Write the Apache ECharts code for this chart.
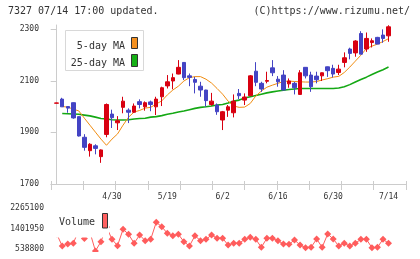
<!DOCTYPE html>
<html>
<head>
<meta charset="UTF-8">
<title>7327</title>
<style>
  html, body { margin: 0; padding: 0; background: #fff; }
  #chart { width: 420px; height: 259px; }
</style>
</head>
<body>
<div id="chart"></div>
<script src="https://cdn.jsdelivr.net/npm/echarts@6/dist/echarts.min.js"></script>
<script>
// trading days, 2020-04-15 .. 2020-07-14
var dates = ['4/15','4/16','4/17','4/20','4/21','4/22','4/23','4/24','4/27','4/28',
  '4/30','5/1','5/7','5/8','5/11','5/12','5/13','5/14','5/15','5/18',
  '5/19','5/20','5/21','5/22','5/25','5/26','5/27','5/28','5/29','6/1',
  '6/2','6/3','6/4','6/5','6/8','6/9','6/10','6/11','6/12','6/15',
  '6/16','6/17','6/18','6/19','6/22','6/23','6/24','6/25','6/26','6/29',
  '6/30','7/1','7/2','7/3','7/6','7/7','7/8','7/9','7/10','7/13','7/14'];
var labelIdx = [10, 20, 30, 40, 50, 60];

// [open, close, low, high]
var ohlc = [
  [2013,2014,2012,2015],[2029,1999,1999,2034],[2000,1994,1976,2001],[2015,1956,1953,2016],
  [1961,1886,1884,1962],[1881,1842,1829,1893],[1829,1854,1806,1858],[1848,1838,1815,1854],
  [1806,1832,1782,1834],[1892,2008,1881,2012],[1971,1957,1917,1988],[1937,1945,1909,1963],
  [1997,2021,1974,2038],[1986,1978,1936,1993],[1978,2002,1975,2012],[2019,2008,1993,2028],
  [1999,2015,1984,2020],[2018,2008,1982,2023],[1999,2029,1967,2038],[2038,2073,2002,2077],
  [2080,2096,2070,2122],[2099,2112,2067,2128],[2126,2152,2125,2180],[2171,2112,2103,2172],
  [2119,2113,2079,2128],[2105,2094,2051,2115],[2079,2064,2038,2096],[2064,2023,1999,2065],
  [2008,2021,2003,2053],[2006,1980,1968,2012],[1948,1980,1909,1983],[1986,1999,1960,2006],
  [1976,2021,1958,2047],[2051,2042,2028,2068],[2025,2037,2006,2051],[2042,2119,2042,2122],
  [2137,2094,2079,2172],[2090,2068,2057,2096],[2098,2101,2090,2135],[2150,2131,2118,2180],
  [2106,2096,2077,2118],[2122,2064,2064,2141],[2088,2099,2073,2109],[2090,2073,2047,2096],
  [2047,2131,2047,2141],[2152,2119,2109,2153],[2122,2077,2057,2135],[2118,2104,2090,2135],
  [2119,2131,2099,2132],[2154,2139,2115,2155],[2148,2126,2113,2162],[2132,2145,2122,2162],
  [2171,2189,2152,2210],[2223,2206,2183,2228],[2208,2254,2193,2257],[2283,2203,2203,2292],
  [2223,2264,2212,2287],[2248,2255,2229,2264],[2268,2242,2242,2270],[2277,2264,2247,2299],
  [2274,2309,2251,2315]
];

var ma5 = [null,2000,1998,1990,1983,1955,1928,1901,1874,1850,1874,1894,1928,1959,1979,1985,
  1994,1997,2010,2022,2045,2064,2079,2099,2112,2116,2116,2106,2091,2070,2048,2021,2002,1997,
  1998,2012,2041,2060,2075,2083,2090,2097,2099,2097,2096,2095,2095,2097,2103,2108,2114,2117,
  2132,2153,2176,2199,2225,2234,2242,2252,2263];

var ma25 = [null,1973,1972,1971,1970,1967,1964,1959,1954,1952,1949,1948,1948,1949,1952,1954,
  1955,1959,1961,1965,1970,1974,1979,1983,1988,1993,1997,1999,2002,2006,2008,2014,2021,2025,
  2033,2038,2043,2048,2053,2057,2060,2063,2066,2068,2070,2070,2070,2070,2070,2070,2070,2072,
  2077,2085,2095,2105,2114,2124,2134,2143,2153];

var volume = [1170000,665000,749000,779000,1339000,981000,1255000,455000,846000,1465000,
  947000,678000,1368000,1158000,779000,1128000,888000,947000,1663000,1478000,
  1200000,1099000,1158000,846000,665000,1099000,888000,947000,1128000,989000,
  989000,707000,779000,779000,947000,1031000,947000,610000,989000,989000,
  888000,749000,737000,918000,707000,594000,610000,960000,610000,1170000,
  960000,665000,779000,665000,779000,947000,947000,594000,610000,947000,779000];

var priceTicks = [1700, 1900, 2100, 2300];
var volTicks = [538800, 1401950, 2265100];

var FONT = 'DejaVu Sans Mono';
var AXIS = '#cccccc';

function pairs(arr) {
  var out = [];
  for (var i = 0; i < arr.length; i++) {
    if (arr[i] != null) out.push([i, arr[i]]);
  }
  return out;
}
function plain(v) { return String(v); }
var candleData = ohlc.map(function (d, i) { return [i, d[0], d[1], d[2], d[3]]; });

var chart = echarts.init(document.getElementById('chart'), null, { renderer: 'canvas' });

var xMin = -1.03, xMax = 63.16;

chart.setOption({
  animation: false,
  textStyle: { fontFamily: FONT },
  grid: [
    { left: 51, top: 25, width: 355, height: 159 },
    { left: 51, top: 205, width: 355, height: 47 }
  ],
  xAxis: [
    { // data axis for price, labels only
      type: 'value', gridIndex: 0, min: xMin, max: xMax,
      axisLine: { show: false }, axisTick: { show: false }, splitLine: { show: false },
      axisLabel: {
        customValues: labelIdx, margin: 9, color: '#333', fontSize: 8, fontFamily: FONT,
        formatter: function (v) { return dates[Math.round(v)]; }
      }
    },
    { // axis line + outside ticks
      type: 'value', gridIndex: 0, min: 0, max: 11, interval: 1,
      position: 'bottom',
      axisLine: { show: true, lineStyle: { color: AXIS, width: 1 } },
      axisTick: { show: true, length: 6, lineStyle: { color: AXIS } },
      axisLabel: { show: false }, splitLine: { show: false }
    },
    { // inside ticks
      type: 'value', gridIndex: 0, min: 0, max: 11, interval: 1,
      position: 'bottom',
      axisLine: { show: false },
      axisTick: { show: true, inside: true, length: 3, lineStyle: { color: AXIS } },
      axisLabel: { show: false }, splitLine: { show: false }
    },
    { // volume
      type: 'value', gridIndex: 1, min: xMin, max: xMax, show: false
    }
  ],
  yAxis: [
    {
      type: 'value', gridIndex: 0, min: 1700, max: 2316,
      axisLine: { show: true, lineStyle: { color: AXIS } },
      axisTick: { show: true, length: 6, customValues: priceTicks, lineStyle: { color: AXIS } },
      axisLabel: { customValues: priceTicks, margin: 12, color: '#333', fontSize: 8, fontFamily: FONT,
        formatter: plain },
      splitLine: { show: false }
    },
    {
      type: 'value', gridIndex: 0, min: 1700, max: 2316, position: 'left',
      axisLine: { show: false },
      axisTick: { show: true, inside: true, length: 3, customValues: priceTicks, lineStyle: { color: AXIS } },
      axisLabel: { show: false }, splitLine: { show: false }
    },
    {
      type: 'value', gridIndex: 1, min: 412500, max: 2391200,
      axisLine: { show: false }, axisTick: { show: false }, splitLine: { show: false },
      axisLabel: {
        customValues: volTicks, margin: 7, color: '#333', fontSize: 8, fontFamily: FONT,
        formatter: plain
      }
    }
  ],
  series: [
    {
      type: 'line', xAxisIndex: 0, yAxisIndex: 0, data: pairs(ma25),
      showSymbol: false, z: 1,
      lineStyle: { color: '#14a814', width: 1.6 }
    },
    {
      type: 'line', xAxisIndex: 0, yAxisIndex: 0, data: pairs(ma5),
      showSymbol: false, z: 1,
      lineStyle: { color: '#f08c10', width: 1 }
    },
    {
      type: 'candlestick', xAxisIndex: 0, yAxisIndex: 0, data: candleData,
      encode: { x: 0, y: [1, 2, 3, 4] },
      barWidth: 4, clip: false, z: 3,
      itemStyle: {
        color: '#d80010', color0: '#4444c4',
        borderColor: '#d80010', borderColor0: '#4444c4', borderWidth: 1
      }
    },
    {
      type: 'line', xAxisIndex: 3, yAxisIndex: 2, data: pairs(volume),
      symbol: 'diamond', symbolSize: 7, showSymbol: true, clip: true,
      itemStyle: { color: '#ff5c5c' },
      lineStyle: { color: '#ff5c5c', width: 1 }
    }
  ],
  graphic: [
    { type: 'text', left: 8, top: 6, z: 100,
      style: { text: '7327 07/14 17:00 updated.', font: '10px ' + FONT, fill: '#333' } },
    { type: 'text', right: 10, top: 6, z: 100,
      style: { text: '(C)https://www.rizumu.net/', font: '10px ' + FONT, fill: '#333' } },
    // price legend
    { type: 'rect', z: 100, shape: { x: 65.5, y: 30.5, width: 78, height: 40 },
      style: { fill: '#fff', stroke: '#d8d8d8', lineWidth: 1 } },
    { type: 'text', z: 101, x: 125, y: 46,
      style: { text: '5-day MA', font: '10px ' + FONT, fill: '#333', textAlign: 'right', textVerticalAlign: 'middle' } },
    { type: 'rect', z: 101, shape: { x: 131.5, y: 37.5, width: 6, height: 11 },
      style: { fill: '#f39020', stroke: '#333', lineWidth: 1 } },
    { type: 'text', z: 101, x: 125, y: 63,
      style: { text: '25-day MA', font: '10px ' + FONT, fill: '#333', textAlign: 'right', textVerticalAlign: 'middle' } },
    { type: 'rect', z: 101, shape: { x: 131.5, y: 54.5, width: 6, height: 12 },
      style: { fill: '#16b016', stroke: '#333', lineWidth: 1 } },
    // volume legend (white backdrop hides markers beneath)
    { type: 'rect', z: 100, shape: { x: 53, y: 200, width: 56, height: 37.5 },
      style: { fill: '#fff' } },
    { type: 'text', z: 101, x: 59, y: 222,
      style: { text: 'Volume', font: '10px ' + FONT, fill: '#333', textVerticalAlign: 'middle' } },
    { type: 'rect', z: 101, shape: { x: 102.5, y: 213.5, width: 5, height: 14.5 },
      style: { fill: '#ff6060', stroke: '#333', lineWidth: 1 } },
    // clip volume panel bottom
    { type: 'rect', z: 100, shape: { x: 50, y: 252, width: 360, height: 7 },
      style: { fill: '#fff' } }
  ]
});
</script>
</body>
</html>
